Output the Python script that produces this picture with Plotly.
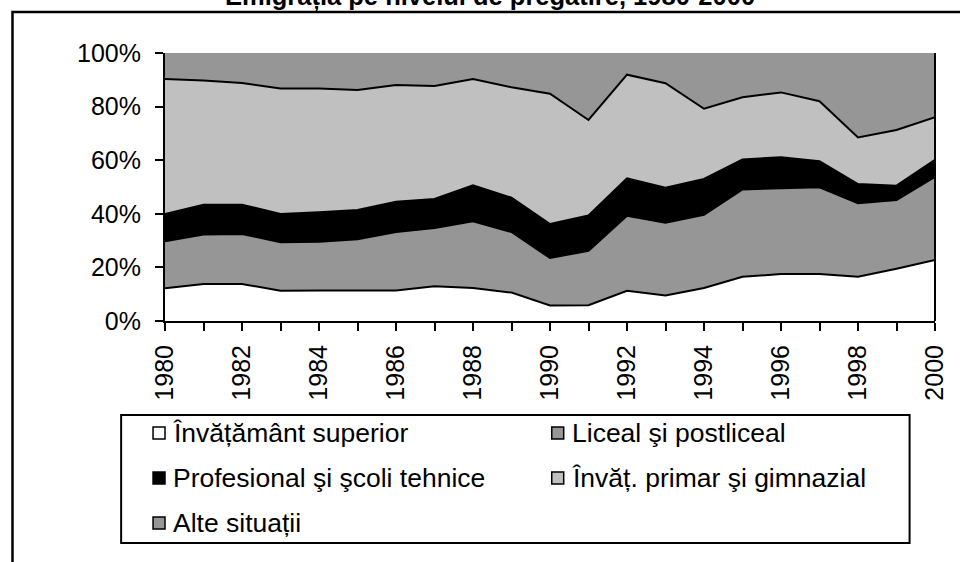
import plotly.graph_objects as go

# Emigration by level of education, shares of total (%), 1980-2000
years = list(range(1980, 2001))
superior = [12.2, 13.8, 13.8, 11.3, 11.4, 11.4, 11.4, 13.0, 12.3, 10.6, 5.8,
            5.9, 11.3, 9.5, 12.3, 16.5, 17.5, 17.5, 16.5, 19.5, 22.8]
liceal = [17.6, 18.5, 18.7, 18.1, 18.2, 19.1, 21.8, 21.7, 24.9, 22.6, 17.7,
          20.3, 28.0, 27.2, 27.3, 32.6, 32.0, 32.4, 27.4, 25.6, 31.0]
profesional = [10.1, 11.1, 10.9, 10.5, 11.0, 10.9, 11.3, 10.8, 13.4, 12.8, 12.7,
               13.2, 13.9, 13.0, 13.4, 11.2, 11.6, 9.7, 7.2, 5.4, 6.3]
primar = [50.4, 46.3, 45.4, 46.9, 46.2, 44.8, 43.6, 42.2, 39.7, 41.2, 48.6,
          35.6, 38.7, 39.0, 26.2, 23.2, 24.2, 22.4, 17.4, 20.8, 15.9]
alte = [9.7, 10.3, 11.2, 13.2, 13.2, 13.8, 11.9, 12.3, 9.7, 12.8, 15.2,
        25.0, 8.1, 11.3, 20.8, 16.5, 14.7, 18.0, 31.5, 28.7, 24.0]

series_names = ["Învățământ superior", "Liceal şi postliceal",
                "Profesional şi şcoli tehnice", "Învăț. primar şi gimnazial",
                "Alte situații"]
series_values = [superior, liceal, profesional, primar, alte]
y_ticks = [0, 20, 40, 60, 80, 100]
y_tick_labels = [f"{v}%" for v in y_ticks]

title_text = "Emigrația pe nivelul de pregătire, 1980-2000"

# styling
fills = ["#FFFFFF", "#969696", "#000000", "#C0C0C0", "#969696"]
edge_widths = [2, 2, 2, 2, 0]
FONT = "Liberation Sans, Arial, sans-serif"

W, H = 960, 562
L, R, T, B = 165, 937.5, 53, 321  # plot area in pixels


def px_x(p):
    return (p - L) / (R - L)


def px_y(p):
    return (B - p) / (B - T)


fig = go.Figure()
for name, vals, fc, lw in zip(series_names, series_values, fills, edge_widths):
    fig.add_trace(go.Scatter(
        x=years, y=vals, name=name, mode="lines", stackgroup="one",
        fillcolor=fc,
        line=dict(color="#000000" if lw else fc, width=lw),
        showlegend=False,
    ))

shapes = []
annotations = []

# outer chart frame
shapes.append(dict(type="rect", xref="paper", yref="paper",
                   x0=px_x(12), x1=px_x(975), y0=px_y(12), y1=px_y(580),
                   line=dict(color="black", width=2.5), fillcolor="rgba(0,0,0,0)",
                   layer="above"))
# right edge of the plotted area
shapes.append(dict(type="line", xref="x domain", yref="y domain",
                   x0=1, x1=1, y0=0, y1=1,
                   line=dict(color="black", width=2), layer="above"))

# legend box
shapes.append(dict(type="rect", xref="paper", yref="paper",
                   x0=px_x(121), x1=px_x(912), y0=px_y(415), y1=px_y(543),
                   line=dict(color="black", width=2), fillcolor="white"))
col_x = [153, 553]
row_y = [433, 478, 523]
for i, (name, fc) in enumerate(zip(series_names, fills)):
    cx = col_x[i % 2]
    cy = row_y[i // 2]
    shapes.append(dict(type="rect", xref="paper", yref="paper",
                       x0=px_x(cx), x1=px_x(cx + 12),
                       y0=px_y(cy - 6), y1=px_y(cy + 6),
                       line=dict(color="black", width=1.5), fillcolor=fc))
    annotations.append(dict(text=name, xref="paper", yref="paper",
                            x=px_x(cx + 18), y=px_y(cy), xanchor="left",
                            yanchor="middle", showarrow=False,
                            font=dict(family=FONT, size=26.5, color="black")))

# title, running off the top edge
annotations.append(dict(text="<b>" + title_text + "</b>", xref="paper", yref="paper",
                        x=px_x(491), y=px_y(-4), xanchor="center", yanchor="middle",
                        showarrow=False,
                        font=dict(family=FONT, size=25.5, color="black")))

fig.update_layout(
    width=W, height=H, autosize=False,
    margin=dict(l=L, r=W - R, t=T, b=H - B, pad=0),
    paper_bgcolor="white", plot_bgcolor="white",
    font=dict(family=FONT, size=25, color="black"),
    shapes=shapes, annotations=annotations,
    xaxis=dict(
        range=[1980, 2000], tickmode="linear", tick0=1980, dtick=2,
        tickangle=-90, showgrid=False, zeroline=False,
        showline=True, linecolor="black", linewidth=2,
        ticks="outside", ticklen=8, tickwidth=2, tickcolor="black",
        ticklabelstandoff=4,
        minor=dict(dtick=1, ticks="outside", ticklen=8, tickwidth=2,
                   tickcolor="black", showgrid=False),
        tickfont=dict(family=FONT, size=25, color="black"),
    ),
    yaxis=dict(
        range=[0, 100], tickmode="array", tickvals=y_ticks, ticktext=y_tick_labels,
        showgrid=False, zeroline=False,
        showline=True, linecolor="black", linewidth=2,
        ticks="outside", ticklen=8, tickwidth=2, tickcolor="black",
        ticklabelstandoff=9,
        tickfont=dict(family=FONT, size=25, color="black"),
    ),
)

fig.write_html("out.html")
